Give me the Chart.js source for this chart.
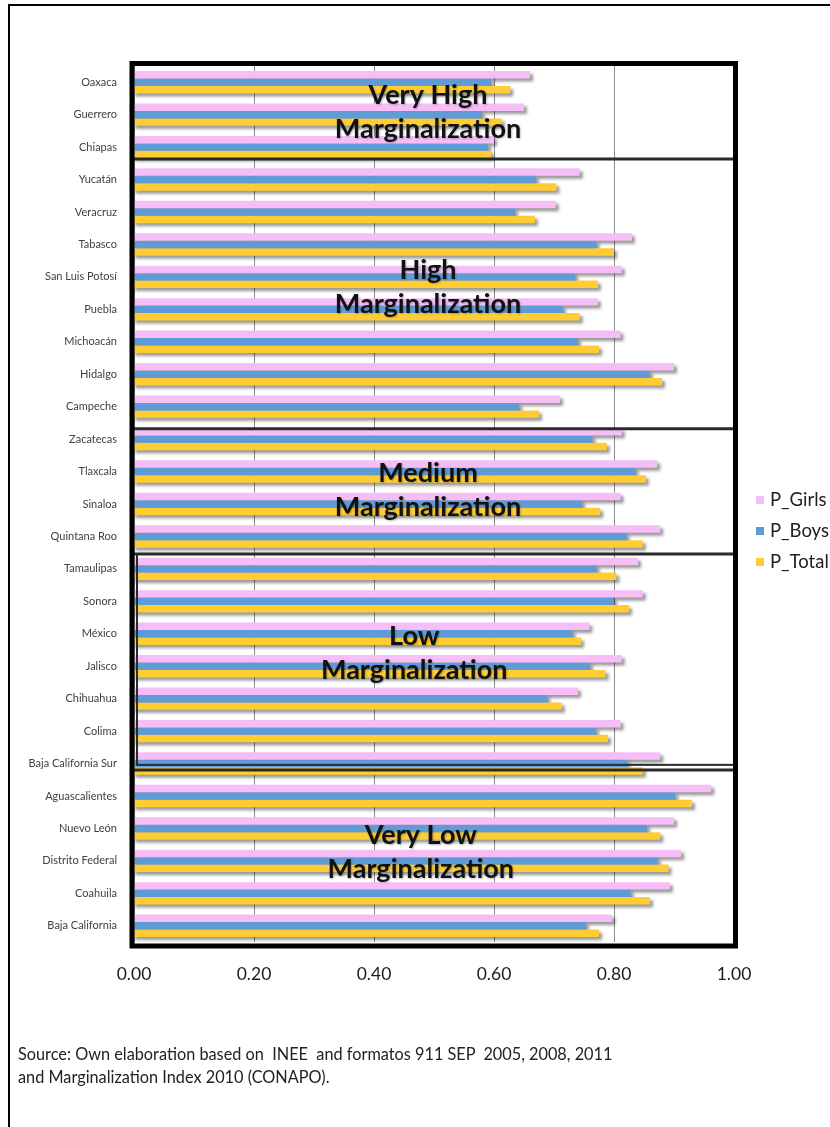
<!DOCTYPE html>
<html>
<head>
<meta charset="utf-8">
<script src="https://cdn.jsdelivr.net/npm/chart.js@4.4.0/dist/chart.umd.min.js"></script>
<style>
  html, body { margin: 0; padding: 0; background: #fff; overflow: hidden; }
  #wrap { position: relative; width: 830px; height: 1127px; }
  #frame { position: absolute; left: 8px; top: 4px; width: 900px; height: 1200px; border: 2px solid #000; }
  #box { position: absolute; left: 0; top: 0; width: 830px; height: 1127px; }
  #source { position: absolute; left: 18px; top: 1042px; font: 16.3px Lato, sans-serif; line-height: 23px; color: #222; white-space: pre; }
</style>
</head>
<body>
<div id="wrap">
  <div id="frame"></div>
  <div id="box"><canvas id="chart"></canvas></div>
  <div id="source">Source: Own elaboration based on  INEE  and formatos 911 SEP  2005, 2008, 2011
and Marginalization Index 2010 (CONAPO).</div>
</div>
<script>
// States, ordered by marginalization group
const states = ['Oaxaca', 'Guerrero', 'Chiapas', 'Yucatán', 'Veracruz', 'Tabasco', 'San Luis Potosí',
  'Puebla', 'Michoacán', 'Hidalgo', 'Campeche', 'Zacatecas', 'Tlaxcala', 'Sinaloa', 'Quintana Roo',
  'Tamaulipas', 'Sonora', 'México', 'Jalisco', 'Chihuahua', 'Colima', 'Baja California Sur',
  'Aguascalientes', 'Nuevo León', 'Distrito Federal', 'Coahuila', 'Baja California'];

const girls = [0.66, 0.65, 0.60, 0.743, 0.703, 0.83, 0.813, 0.773, 0.811, 0.90, 0.71, 0.813, 0.872, 0.811,
  0.877, 0.84, 0.848, 0.759, 0.813, 0.74, 0.811, 0.877, 0.962, 0.90, 0.912, 0.893, 0.797];
const boys = [0.595, 0.58, 0.59, 0.67, 0.635, 0.771, 0.735, 0.715, 0.74, 0.86, 0.642, 0.764, 0.836, 0.747,
  0.821, 0.771, 0.80, 0.731, 0.76, 0.689, 0.77, 0.823, 0.902, 0.855, 0.873, 0.828, 0.753];
const total = [0.627, 0.613, 0.595, 0.704, 0.668, 0.80, 0.773, 0.743, 0.775, 0.88, 0.675, 0.788, 0.853, 0.777,
  0.848, 0.804, 0.825, 0.745, 0.786, 0.713, 0.79, 0.848, 0.93, 0.877, 0.891, 0.86, 0.775];

const xTicks = [0, 0.2, 0.4, 0.6, 0.8, 1.0];

const groupNames = [
  ['Very High', 'Marginalization'],
  ['High', 'Marginalization'],
  ['Medium', 'Marginalization'],
  ['Low', 'Marginalization'],
  ['Very Low', 'Marginalization']
];

// where each group caption sits: [x value, category index]
const captionAt = [[0.49, 0.92], [0.49, 6.33], [0.49, 12.58], [0.467, 17.59], [0.478, 23.75]];
// group separators, in category index units
const dividers = [2.37, 10.68, 14.54, 21.2];
const lowBox = [14.54, 21.04];

Chart.defaults.font.family = 'Lato, sans-serif';

// soft drop shadow under every bar
const barShadow = {
  id: 'barShadow',
  beforeDatasetsDraw(chart) {
    const ctx = chart.ctx;
    ctx.save();
    ctx.filter = 'blur(1.5px)';
    ctx.fillStyle = 'rgba(0,0,0,0.4)';
    chart.data.datasets.forEach((ds, i) => {
      chart.getDatasetMeta(i).data.forEach(bar => {
        const p = bar.getProps(['x', 'y', 'base', 'height'], true);
        ctx.fillRect(p.base + 1, p.y - p.height / 2 + 3, p.x - p.base + 2, p.height);
      });
    });
    ctx.restore();
  }
};

// frame, group boxes and captions
const groups = {
  id: 'groups',
  afterDatasetsDraw(chart) {
    const ctx = chart.ctx;
    const xs = chart.scales.x, ys = chart.scales.y;
    const p0 = ys.getPixelForValue(0), step = ys.getPixelForValue(1) - p0;
    const yAt = v => p0 + v * step;
    const a = chart.chartArea;
    ctx.save();
    ctx.strokeStyle = '#2a2a2a';
    ctx.lineWidth = 3;
    dividers.forEach(d => {
      ctx.beginPath();
      ctx.moveTo(a.left, yAt(d));
      ctx.lineTo(a.right, yAt(d));
      ctx.stroke();
    });
    ctx.lineWidth = 2;
    ctx.strokeRect(a.left + 3, yAt(lowBox[0]), a.right - a.left - 3, yAt(lowBox[1]) - yAt(lowBox[0]));

    ctx.strokeStyle = '#000';
    ctx.lineWidth = 5;
    ctx.strokeRect(a.left - 2, a.top - 2.5, a.right - a.left + 3.5, a.bottom - a.top + 6.5);

    ctx.font = 'bold 27px Lato, sans-serif';
    ctx.textAlign = 'center';
    ctx.textBaseline = 'middle';
    ctx.fillStyle = '#111';
    ctx.shadowColor = 'rgba(0,0,0,0.25)';
    ctx.shadowBlur = 2;
    ctx.shadowOffsetX = 1;
    ctx.shadowOffsetY = 1;
    groupNames.forEach((lines, i) => {
      const cx = xs.getPixelForValue(captionAt[i][0]);
      const cy = yAt(captionAt[i][1]);
      ctx.fillText(lines[0], cx, cy - 17);
      ctx.fillText(lines[1], cx, cy + 17);
    });
    ctx.restore();
  }
};

// legend to the right of the plot
const sideLegend = {
  id: 'sideLegend',
  afterDraw(chart) {
    const ctx = chart.ctx;
    const a = chart.chartArea;
    const mid = (a.top + a.bottom) / 2 + 27;
    ctx.save();
    ctx.font = '18.5px Lato, sans-serif';
    ctx.textBaseline = 'middle';
    chart.data.datasets.forEach((ds, i) => {
      const y = mid + (i - 1) * 31;
      ctx.fillStyle = ds.backgroundColor;
      ctx.fillRect(a.right + 22, y - 4, 8, 8);
      ctx.fillStyle = '#222';
      ctx.fillText(ds.label, a.right + 36, y);
    });
    ctx.restore();
  }
};

new Chart(document.getElementById('chart'), {
  type: 'bar',
  data: {
    labels: states,
    datasets: [
      { label: 'P_Girls', data: girls, backgroundColor: '#F5BEF7' },
      { label: 'P_Boys', data: boys, backgroundColor: '#5E9CD8' },
      { label: 'P_Total', data: total, backgroundColor: '#FFCC33' }
    ]
  },
  options: {
    indexAxis: 'y',
    responsive: true,
    maintainAspectRatio: false,
    animation: false,
    categoryPercentage: 0.69,
    barPercentage: 1.0,
    layout: { padding: { top: 66, right: 96, left: 0, bottom: 0 } },
    plugins: {
      legend: { display: false },
      tooltip: { enabled: false }
    },
    scales: {
      x: {
        min: 0,
        max: 1,
        afterBuildTicks: s => { s.ticks = xTicks.map(v => ({ value: v })); },
        afterFit: s => { s.height = 185; },
        grid: { color: '#8c8c8c', lineWidth: 1, drawTicks: false },
        border: { display: false },
        ticks: {
          padding: 22,
          color: '#1c1c1c',
          font: { size: 17.5 },
          callback: v => v.toFixed(2)
        }
      },
      y: {
        afterFit: s => { s.width = 134; },
        grid: { display: false, drawTicks: false },
        border: { display: false },
        ticks: {
          autoSkip: false,
          padding: 17,
          color: '#404040',
          font: { size: 11 }
        }
      }
    }
  },
  plugins: [barShadow, groups, sideLegend]
});
</script>
</body>
</html>
